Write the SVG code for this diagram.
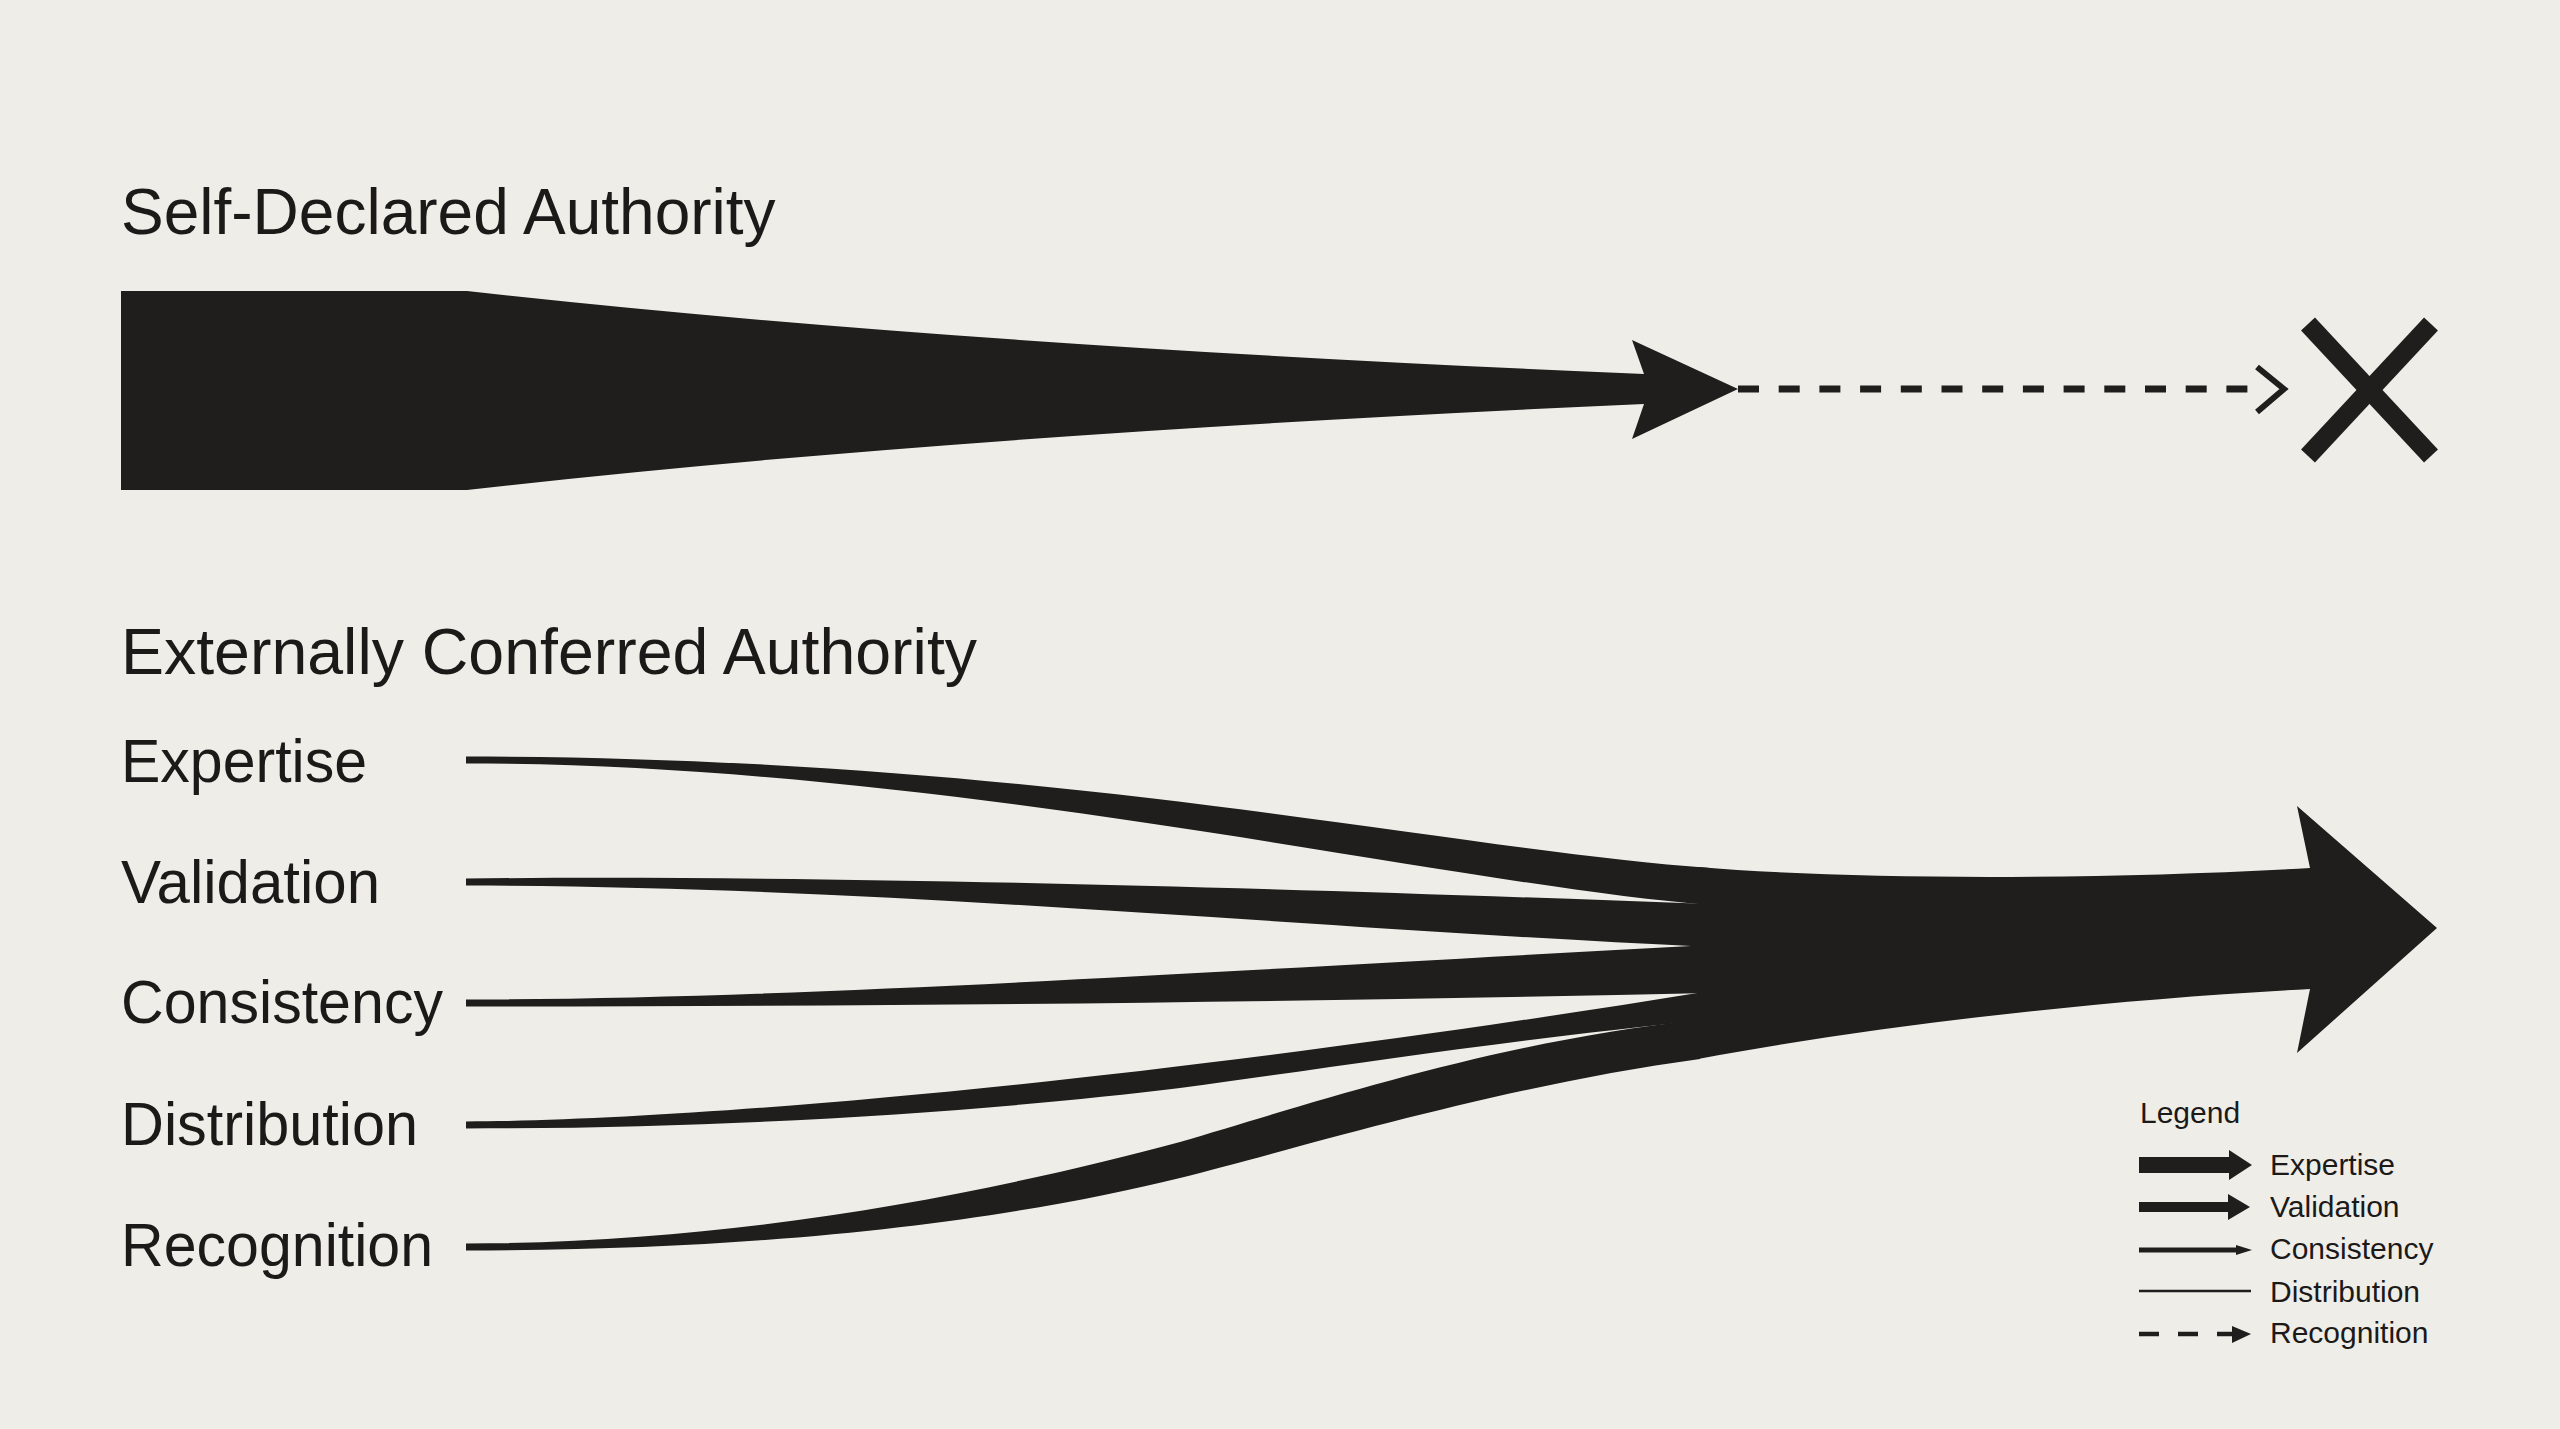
<svg xmlns="http://www.w3.org/2000/svg" width="2560" height="1429" viewBox="0 0 2560 1429">
<style>
.t{font-family:"Liberation Sans",Arial,sans-serif;fill:#1b1a19}
.h{font-size:64px}
.lab{font-size:62px}
.lg{font-size:30px}
.ink{fill:#1f1e1c}
.st{stroke:#1f1e1c;fill:none}
</style>
<rect x="0" y="0" width="2560" height="1429" fill="#efede8"/>

<g id="title-self">
<text class="t h" x="121" y="234">Self-Declared Authority</text>
</g>
<g id="title-external">
<text class="t h" x="121" y="674" textLength="856" lengthAdjust="spacingAndGlyphs">Externally Conferred Authority</text>
</g>

<g id="label-expertise"><text class="t lab" x="121" y="782" textLength="246" lengthAdjust="spacingAndGlyphs">Expertise</text></g>
<g id="label-validation"><text class="t lab" x="121" y="903" textLength="259" lengthAdjust="spacingAndGlyphs">Validation</text></g>
<g id="label-consistency"><text class="t lab" x="121" y="1023" textLength="322" lengthAdjust="spacingAndGlyphs">Consistency</text></g>
<g id="label-distribution"><text class="t lab" x="121" y="1145" textLength="297" lengthAdjust="spacingAndGlyphs">Distribution</text></g>
<g id="label-recognition"><text class="t lab" x="121" y="1266" textLength="312" lengthAdjust="spacingAndGlyphs">Recognition</text></g>

<g id="reject-mark">
<line class="st" x1="2308" y1="324" x2="2431" y2="456" stroke-width="19"/>
<line class="st" x1="2431" y1="324" x2="2308" y2="456" stroke-width="19"/>
</g>

<g id="connectors">
<path class="ink" d="M121,291 H467 Q950,345 1644,374 L1632,340 L1738,389 L1632,439 L1644,404 Q950,435 467,490 H121 Z"/>
<line class="st" x1="1738" y1="389" x2="2248" y2="389" stroke-width="7" stroke-dasharray="21 19.7"/>
<polyline class="st" points="2257,367 2284,389 2257,412" stroke-width="6"/>

<path id="band-expertise" class="ink" d="M466,756.5 C1050,756.5 1450,850 1710,868 L1710,905 C1450,885 950,763.5 466,763.5 Z"/>
<path id="band-validation" class="ink" d="M466,878.5 C800,875 1200,885 1710,904 L1710,947 C1250,925 900,887 466,885.5 Z"/>
<path id="band-consistency" class="ink" d="M466,999.5 C800,999 1200,972 1710,945 L1710,993 C1300,1002 900,1006.5 466,1006.5 Z"/>
<path id="band-distribution" class="ink" d="M466,1121.5 C700,1120 1150,1082 1710,991 L1710,1020 C1500,1040 1330,1068 1180,1088 C1000,1110 750,1128.5 466,1128.5 Z"/>
<path id="band-recognition" class="ink" d="M466,1243.5 C750,1243 1000,1190 1180,1142 C1310,1104 1500,1040 1700,1020 L1700,1059 C1500,1086 1300,1148 1180,1178 C1030,1215 800,1250.5 466,1250.5 Z"/>
<path id="merged-arrow" class="ink" d="M1698,867 C1850,880 2100,880 2310,868 L2297,806 L2437,928 L2297,1053 L2310,989 C2100,1000 1880,1025 1698,1059 Z"/>
</g>

<g id="legend">
<text class="t lg" x="2140" y="1123">Legend</text>
<g id="legend-expertise">
<rect class="ink" x="2139" y="1157" width="94" height="16"/>
<polygon class="ink" points="2229,1150 2252,1165 2229,1180"/>
<text class="t lg" x="2270" y="1175">Expertise</text>
</g>
<g id="legend-validation">
<rect class="ink" x="2139" y="1202" width="92" height="10"/>
<polygon class="ink" points="2228,1194 2250,1207 2228,1220"/>
<text class="t lg" x="2270" y="1217">Validation</text>
</g>
<g id="legend-consistency">
<line class="st" x1="2139" y1="1250" x2="2240" y2="1250" stroke-width="5"/>
<polygon class="ink" points="2236,1245 2252,1250 2236,1255"/>
<text class="t lg" x="2270" y="1259">Consistency</text>
</g>
<g id="legend-distribution">
<line class="st" x1="2139" y1="1291" x2="2251" y2="1291" stroke-width="2.5"/>
<text class="t lg" x="2270" y="1302">Distribution</text>
</g>
<g id="legend-recognition">
<line class="st" x1="2139" y1="1334" x2="2233" y2="1334" stroke-width="4.5" stroke-dasharray="20 19"/>
<polygon class="ink" points="2232,1326 2251,1334 2232,1343"/>
<text class="t lg" x="2270" y="1343">Recognition</text>
</g>
</g>
</svg>
